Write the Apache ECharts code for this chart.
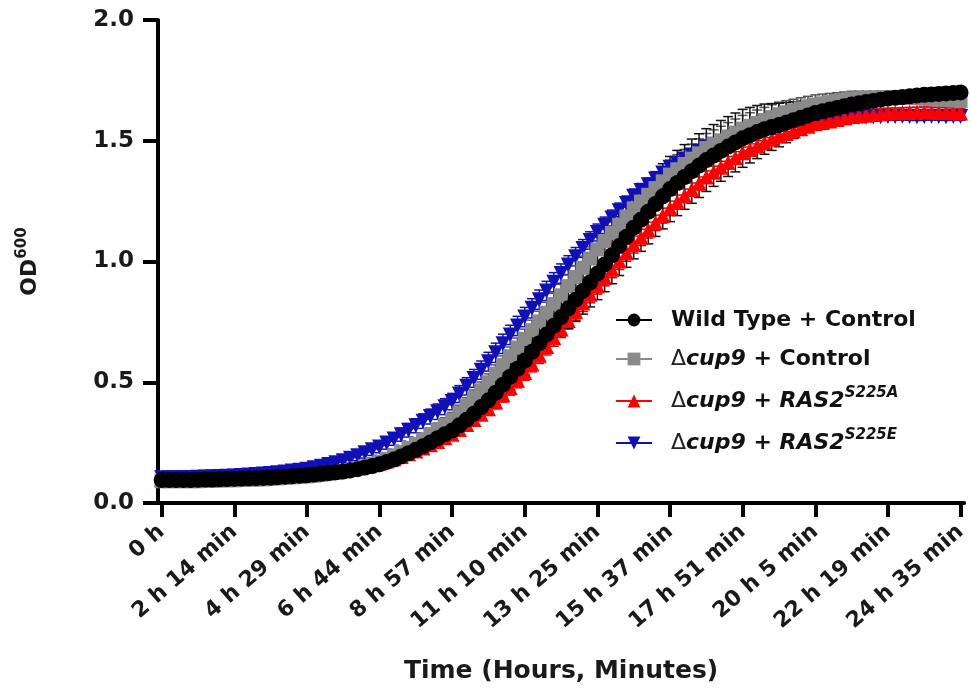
<!DOCTYPE html>
<html>
<head>
<meta charset="utf-8">
<script src="https://cdn.jsdelivr.net/npm/echarts@6/dist/echarts.min.js"></script>
<style>html,body{margin:0;padding:0;background:#fff;}#c{width:970px;height:691px;}</style>
</head>
<body>
<div id="c"></div>
<script>
// Tick labels shown every 10th reading
const tickLabels = ['0 h','2 h 14 min','4 h 29 min','6 h 44 min','8 h 57 min','11 h 10 min','13 h 25 min','15 h 37 min','17 h 51 min','20 h 5 min','22 h 19 min','24 h 35 min'];
const seriesNames = ['Wild Type + Control','\u0394cup9 + Control','\u0394cup9 + RAS2 S225A','\u0394cup9 + RAS2 S225E'];

// Wild Type + Control (mean OD600)
const wt = [
0.095,0.095,0.095,0.095,0.095,0.096,0.097,0.097,0.098,0.099,
0.100,0.101,0.102,0.103,0.104,0.105,0.107,0.109,0.111,0.113,
0.115,0.118,0.121,0.124,0.127,0.130,0.135,0.140,0.147,0.153,
0.160,0.170,0.180,0.193,0.206,0.220,0.235,0.251,0.268,0.285,
0.300,0.322,0.345,0.370,0.397,0.425,0.457,0.490,0.523,0.556,
0.590,0.626,0.662,0.698,0.734,0.770,0.806,0.842,0.878,0.914,
0.950,0.988,1.026,1.064,1.102,1.140,1.173,1.206,1.238,1.270,
1.300,1.325,1.350,1.374,1.397,1.420,1.439,1.458,1.476,1.493,
1.510,1.523,1.536,1.548,1.557,1.565,1.575,1.585,1.595,1.605,
1.615,1.622,1.629,1.636,1.643,1.650,1.655,1.660,1.665,1.670,
1.675,1.678,1.681,1.684,1.687,1.690,1.692,1.694,1.696,1.698,
1.700];
const wtSd = [
0.010,0.010,0.010,0.010,0.010,0.010,0.010,0.010,0.010,0.010,
0.010,0.010,0.011,0.011,0.012,0.012,0.013,0.013,0.014,0.014,
0.015,0.015,0.016,0.016,0.017,0.018,0.019,0.020,0.021,0.022,
0.023,0.024,0.025,0.026,0.027,0.028,0.030,0.032,0.034,0.036,
0.038,0.040,0.042,0.044,0.046,0.048,0.050,0.052,0.054,0.056,
0.058,0.062,0.066,0.070,0.074,0.078,0.084,0.090,0.096,0.102,
0.108,0.113,0.118,0.122,0.126,0.129,0.131,0.133,0.134,0.135,
0.135,0.135,0.134,0.133,0.132,0.130,0.128,0.126,0.124,0.122,
0.120,0.115,0.110,0.104,0.097,0.090,0.083,0.076,0.069,0.062,
0.055,0.050,0.045,0.040,0.035,0.031,0.028,0.025,0.023,0.021,
0.020,0.019,0.018,0.017,0.016,0.015,0.015,0.015,0.015,0.015,
0.015];

// Δcup9 + Control
const cup9 = [
0.090,0.090,0.090,0.090,0.090,0.090,0.091,0.092,0.093,0.094,
0.094,0.095,0.096,0.097,0.098,0.100,0.102,0.104,0.106,0.108,
0.110,0.113,0.117,0.121,0.125,0.130,0.137,0.144,0.152,0.161,
0.170,0.183,0.197,0.212,0.228,0.245,0.263,0.283,0.303,0.324,
0.345,0.374,0.404,0.435,0.467,0.500,0.536,0.572,0.608,0.644,
0.680,0.716,0.752,0.788,0.824,0.860,0.898,0.936,0.974,1.012,
1.050,1.084,1.118,1.152,1.186,1.220,1.248,1.276,1.304,1.332,
1.360,1.382,1.404,1.426,1.448,1.470,1.486,1.502,1.518,1.534,
1.550,1.562,1.574,1.586,1.598,1.610,1.618,1.626,1.634,1.642,
1.650,1.655,1.660,1.665,1.670,1.675,1.676,1.677,1.678,1.679,
1.680,1.679,1.678,1.677,1.676,1.675,1.673,1.671,1.669,1.667,
1.665];
const cup9Sd = [
0.008,0.008,0.008,0.008,0.008,0.008,0.008,0.008,0.008,0.008,
0.009,0.009,0.009,0.009,0.009,0.009,0.009,0.009,0.009,0.009,
0.010,0.011,0.012,0.013,0.014,0.015,0.016,0.017,0.018,0.019,
0.020,0.021,0.022,0.023,0.024,0.025,0.026,0.027,0.028,0.029,
0.030,0.031,0.032,0.033,0.034,0.035,0.036,0.037,0.038,0.039,
0.040,0.041,0.042,0.043,0.044,0.045,0.046,0.047,0.048,0.049,
0.050,0.051,0.052,0.053,0.054,0.055,0.056,0.057,0.058,0.059,
0.060,0.060,0.060,0.060,0.060,0.060,0.059,0.058,0.057,0.056,
0.055,0.054,0.053,0.052,0.051,0.050,0.048,0.046,0.044,0.042,
0.040,0.038,0.036,0.034,0.032,0.030,0.029,0.028,0.027,0.026,
0.025,0.025,0.025,0.025,0.025,0.025,0.025,0.025,0.025,0.025,
0.025];

// Δcup9 + RAS2 S225A
const s225a = [
0.098,0.098,0.098,0.098,0.099,0.099,0.099,0.100,0.100,0.101,
0.102,0.103,0.104,0.105,0.106,0.108,0.110,0.112,0.114,0.116,
0.118,0.121,0.124,0.127,0.131,0.135,0.140,0.146,0.152,0.158,
0.165,0.174,0.183,0.193,0.204,0.215,0.228,0.241,0.255,0.270,
0.285,0.304,0.325,0.346,0.368,0.390,0.418,0.447,0.477,0.508,
0.540,0.576,0.612,0.648,0.684,0.720,0.756,0.792,0.828,0.864,
0.900,0.934,0.968,1.002,1.036,1.070,1.100,1.130,1.160,1.190,
1.220,1.246,1.272,1.298,1.324,1.350,1.370,1.390,1.410,1.430,
1.450,1.464,1.478,1.492,1.506,1.520,1.530,1.540,1.550,1.560,
1.570,1.576,1.582,1.588,1.594,1.600,1.603,1.606,1.609,1.612,
1.615,1.616,1.617,1.618,1.619,1.620,1.619,1.618,1.617,1.616,
1.615];
const s225aSd = [
0.008,0.008,0.008,0.008,0.008,0.008,0.008,0.008,0.008,0.008,
0.009,0.009,0.009,0.009,0.010,0.010,0.010,0.011,0.011,0.011,
0.012,0.012,0.013,0.013,0.014,0.014,0.015,0.015,0.016,0.016,
0.017,0.017,0.018,0.018,0.019,0.019,0.020,0.020,0.021,0.021,
0.022,0.023,0.024,0.025,0.026,0.027,0.028,0.029,0.030,0.031,
0.032,0.033,0.034,0.035,0.035,0.035,0.035,0.035,0.035,0.035,
0.035,0.035,0.035,0.035,0.035,0.035,0.034,0.033,0.032,0.031,
0.030,0.029,0.028,0.027,0.026,0.025,0.025,0.025,0.025,0.025,
0.024,0.023,0.022,0.021,0.020,0.020,0.020,0.020,0.020,0.020,
0.020,0.020,0.020,0.020,0.020,0.020,0.020,0.020,0.020,0.020,
0.020,0.020,0.020,0.020,0.020,0.020,0.020,0.020,0.020,0.020,
0.020];

// Δcup9 + RAS2 S225E
const s225e = [
0.105,0.105,0.105,0.106,0.106,0.107,0.108,0.109,0.110,0.111,
0.112,0.114,0.116,0.118,0.120,0.122,0.125,0.128,0.132,0.136,
0.140,0.146,0.152,0.159,0.167,0.175,0.185,0.196,0.208,0.220,
0.232,0.248,0.265,0.283,0.301,0.320,0.339,0.358,0.378,0.399,
0.420,0.451,0.483,0.516,0.550,0.585,0.622,0.659,0.696,0.733,
0.770,0.806,0.842,0.878,0.914,0.950,0.985,1.020,1.054,1.087,
1.120,1.150,1.180,1.210,1.240,1.270,1.294,1.318,1.342,1.366,
1.390,1.407,1.424,1.441,1.458,1.475,1.486,1.497,1.508,1.519,
1.530,1.537,1.544,1.551,1.558,1.565,1.569,1.573,1.577,1.581,
1.585,1.587,1.589,1.591,1.593,1.595,1.596,1.597,1.598,1.599,
1.600,1.600,1.601,1.600,1.599,1.600,1.601,1.600,1.599,1.600,
1.600];
const s225eSd = [
0.008,0.008,0.008,0.008,0.008,0.008,0.008,0.008,0.008,0.008,
0.009,0.009,0.010,0.010,0.011,0.011,0.012,0.012,0.013,0.013,
0.014,0.015,0.016,0.017,0.018,0.019,0.020,0.021,0.022,0.023,
0.024,0.025,0.026,0.027,0.028,0.029,0.030,0.031,0.032,0.033,
0.034,0.035,0.036,0.037,0.038,0.039,0.040,0.040,0.040,0.040,
0.040,0.040,0.040,0.040,0.040,0.040,0.039,0.038,0.037,0.036,
0.035,0.034,0.033,0.032,0.031,0.030,0.029,0.028,0.027,0.026,
0.025,0.024,0.023,0.022,0.021,0.020,0.020,0.020,0.020,0.020,
0.019,0.018,0.017,0.016,0.015,0.015,0.015,0.015,0.015,0.015,
0.015,0.015,0.015,0.015,0.015,0.015,0.015,0.015,0.015,0.015,
0.015,0.015,0.015,0.015,0.015,0.015,0.015,0.015,0.015,0.015,
0.015];

const FONT = 'DejaVu Sans';
const categories = wt.map((_, i) => String(i));

function errSeries(name, mean, sd, color, lw) {
  return {
    type: 'custom', name: name, silent: true,
    data: mean.map((m, i) => [i, m, sd[i]]),
    renderItem: function (params, api) {
      const x = api.value(0), m = api.value(1), s = api.value(2);
      const top = api.coord([x, m + s]);
      const bot = api.coord([x, m - s]);
      const hw = 5;
      const st = { stroke: color, lineWidth: lw };
      return {
        type: 'group',
        children: [
          { type: 'line', shape: { x1: top[0], y1: top[1], x2: bot[0], y2: bot[1] }, style: st },
          { type: 'line', shape: { x1: top[0] - hw, y1: top[1], x2: top[0] + hw, y2: top[1] }, style: st },
          { type: 'line', shape: { x1: bot[0] - hw, y1: bot[1], x2: bot[0] + hw, y2: bot[1] }, style: st }
        ]
      };
    }
  };
}
function lineSeries(name, data, color, symbol, size, rot) {
  return {
    type: 'line', name: name, data: data,
    symbol: symbol, symbolSize: size, symbolRotate: rot || 0,
    showSymbol: true, showAllSymbol: true,
    itemStyle: { color: color, borderWidth: 0 },
    lineStyle: { color: color, width: 3 },
    emphasis: { disabled: true }
  };
}

const legendRich = {
  n: { fontFamily: FONT, fontWeight: 'bold', fontSize: 22, color: '#111' },
  d: { fontFamily: FONT, fontWeight: 'normal', fontSize: 22, color: '#222' },
  i: { fontFamily: FONT, fontWeight: 'bold', fontStyle: 'italic', fontSize: 22, color: '#111' },
  s: { fontFamily: FONT, fontWeight: 'bold', fontStyle: 'italic', fontSize: 15, color: '#111', padding: [0, 0, 15, 0] },
  sp: { width: 14 }
};
const legendText = {};
legendText[seriesNames[0]] = '{sp|}{n|Wild Type + Control}';
legendText[seriesNames[1]] = '{sp|}{d|\u0394}{i|cup9}{n| + Control}';
legendText[seriesNames[2]] = '{sp|}{d|\u0394}{i|cup9}{n| + }{i|RAS2}{s|S225A}';
legendText[seriesNames[3]] = '{sp|}{d|\u0394}{i|cup9}{n| + }{i|RAS2}{s|S225E}';

const chart = echarts.init(document.getElementById('c'), null, { renderer: 'canvas' });
chart.setOption({
  animation: false,
  backgroundColor: '#fff',
  grid: { left: 158, right: 2, top: 20, bottom: 188, containLabel: false },
  legend: {
    data: seriesNames,
    orient: 'vertical', left: 610, top: 303,
    itemWidth: 36, itemHeight: 16, itemGap: 15,
    selectedMode: false,
    textStyle: { fontFamily: FONT, fontSize: 22, fontWeight: 'bold', color: '#111', lineHeight: 24, rich: legendRich },
    formatter: function (name) { return legendText[name]; }
  },
  xAxis: {
    type: 'category', data: categories, boundaryGap: true,
    name: 'Time (Hours, Minutes)', nameLocation: 'middle', nameGap: 156,
    nameTextStyle: { fontFamily: FONT, fontWeight: 'bold', fontSize: 25, color: '#1a1a1a' },
    axisLine: { lineStyle: { color: '#000', width: 4 } },
    axisTick: { show: true, alignWithLabel: true, length: 14, lineStyle: { color: '#000', width: 4 },
      interval: function (i) { return i % 10 === 0; } },
    axisLabel: {
      interval: function (i) { return i % 10 === 0; },
      rotate: 41, margin: 26,
      fontFamily: FONT, fontWeight: 'bold', fontSize: 22, color: '#1a1a1a',
      formatter: function (v, i) { return tickLabels[i / 10]; }
    },
    splitLine: { show: false }
  },
  yAxis: {
    type: 'value', min: 0, max: 2, interval: 0.5,
    name: '{b|OD}{s|600}', nameLocation: 'middle', nameRotate: 90, nameGap: 113,
    nameTextStyle: { rich: {
      b: { fontFamily: FONT, fontWeight: 'bold', fontSize: 22, color: '#1a1a1a' },
      s: { fontFamily: FONT, fontWeight: 'bold', fontSize: 15, color: '#1a1a1a', padding: [0, 0, 15, 0] }
    } },
    axisLine: { show: true, lineStyle: { color: '#000', width: 4 } },
    axisTick: { show: true, length: 15, lineStyle: { color: '#000', width: 4 } },
    axisLabel: { margin: 24, fontFamily: FONT, fontWeight: 'bold', fontSize: 23, color: '#1a1a1a',
      formatter: function (v) { return v.toFixed(1); } },
    splitLine: { show: false }
  },
  series: [
    errSeries('err-e', s225e, s225eSd, '#1010b8', 1.5),
    lineSeries(seriesNames[3], s225e, '#1010b8', 'triangle', 15, 180),
    errSeries('err-a', s225a, s225aSd, '#e00000', 1.5),
    lineSeries(seriesNames[2], s225a, '#ff0000', 'triangle', 15),
    errSeries('err-c', cup9, cup9Sd, '#555555', 1.5),
    lineSeries(seriesNames[1], cup9, '#8a8a8a', 'rect', 14),
    lineSeries(seriesNames[0], wt, '#000000', 'circle', 16),
    errSeries('err-wt', wt, wtSd, '#111111', 1.5)
  ]
});
</script>
</body>
</html>
